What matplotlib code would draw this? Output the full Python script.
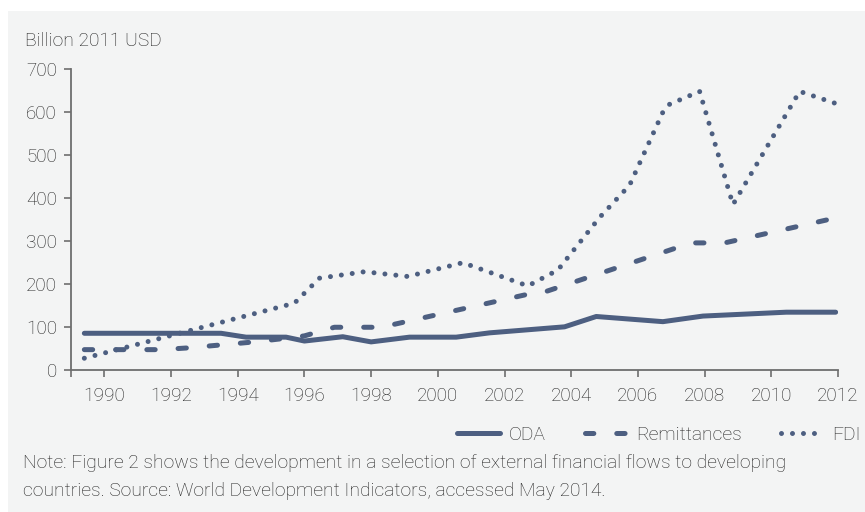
import matplotlib
matplotlib.use('Agg')
import matplotlib.pyplot as plt
from matplotlib.patches import Rectangle

plt.rcParams['font.family'] = ['Roboto', 'DejaVu Sans']
plt.rcParams['font.weight'] = 'light'
plt.rcParams['lines.scale_dashes'] = False

# values (billion 2011 USD), x in years
oda_x = [1989.4, 1993.5, 1994.25, 1995.45, 1996.0, 1997.15, 1998.0, 1999.15, 2000.55,
         2001.55, 2003.8, 2004.75, 2006.75, 2007.95, 2010.45, 2011.93]
oda_y = [86, 86, 77, 77, 68, 78, 66, 77, 77, 87, 101, 125, 113, 126, 135, 135]

rem_x = [1989.4, 1991.7, 1992.5, 1994.5, 1995.5, 1996.0, 1996.9, 1998.3, 2002.6,
         2003.2, 2007.6, 2008.6, 2011.93]
rem_y = [48, 48, 52, 66, 75, 80, 100, 100, 175, 182, 296, 296, 354]

fdi_x = [1989.4, 1995.7, 1996.45, 1997.8, 1999.1, 2000.75, 2002.7, 2003.6, 2004.85,
         2005.75, 2006.75, 2006.95, 2007.85, 2008.85, 2010.85, 2011.93]
fdi_y = [28, 156, 214, 229, 218, 250, 196, 233, 355, 430, 600, 618, 648, 385, 648, 620]

year_ticks = list(range(1990, 2013, 2))
value_ticks = list(range(0, 701, 100))

col = '#4d5f81'
txt = '#222222'
grey = '#6e6e6e'
fs = 13.9

fig = plt.figure(figsize=(8.65, 5.12), dpi=100, facecolor='white')
fig.patches.append(Rectangle((8 / 865, 0), 1, 1 - 11 / 512, transform=fig.transFigure,
                             facecolor='#f3f4f4', edgecolor='none', zorder=-10))
ax = fig.add_axes([71 / 865, 1 - 370.3 / 512, (838 - 71) / 865, (370.3 - 69) / 512])
ax.set_facecolor('none')

lw = 3.6
ax.plot(oda_x, oda_y, color=col, lw=lw, solid_capstyle='round', solid_joinstyle='round', label='ODA')
ax.plot(rem_x, rem_y, color=col, lw=lw, dashes=(6, 16.5), dash_capstyle='round', label='Remittances')
ax.plot(fdi_x, fdi_y, color=col, lw=lw, dashes=(0.01, 7.9), dash_capstyle='round', label='FDI')

ax.set_xlim(1989, 2012)
ax.set_ylim(0, 700)
ax.set_xticks(year_ticks)
ax.set_xticks([1989], minor=True)
ax.set_yticks(value_ticks)

for s in ['top', 'right']:
    ax.spines[s].set_visible(False)
for s in ['left', 'bottom']:
    ax.spines[s].set_color(grey)
    ax.spines[s].set_linewidth(1.3)

ax.tick_params(axis='both', which='both', colors=grey, width=1.2, labelcolor=txt, labelsize=13.6)
ax.tick_params(axis='x', which='both', length=5, pad=7)
ax.tick_params(axis='y', length=5, pad=5)

fig.text(25 / 865, 1 - 41.5 / 512, 'Billion 2011 USD', fontsize=fs, color=txt, va='center', ha='left')

leg = fig.legend(loc='center right', bbox_to_anchor=(861 / 865, 1 - 435 / 512), ncol=3,
                 frameon=False, fontsize=fs, handlelength=2.2, handletextpad=0.45,
                 columnspacing=2.05, borderaxespad=0, borderpad=0)
for t in leg.get_texts():
    t.set_color(txt)

fig.text(23 / 865, 1 - 463.5 / 512,
         'Note: Figure 2 shows the development in a selection of external financial flows to developing',
         fontsize=fs, color=txt, va='center', ha='left')
fig.text(23 / 865, 1 - 490.5 / 512,
         'countries. Source: World Development Indicators, accessed May 2014.',
         fontsize=fs, color=txt, va='center', ha='left')

fig.savefig('out.png', dpi=100, facecolor=fig.get_facecolor())
